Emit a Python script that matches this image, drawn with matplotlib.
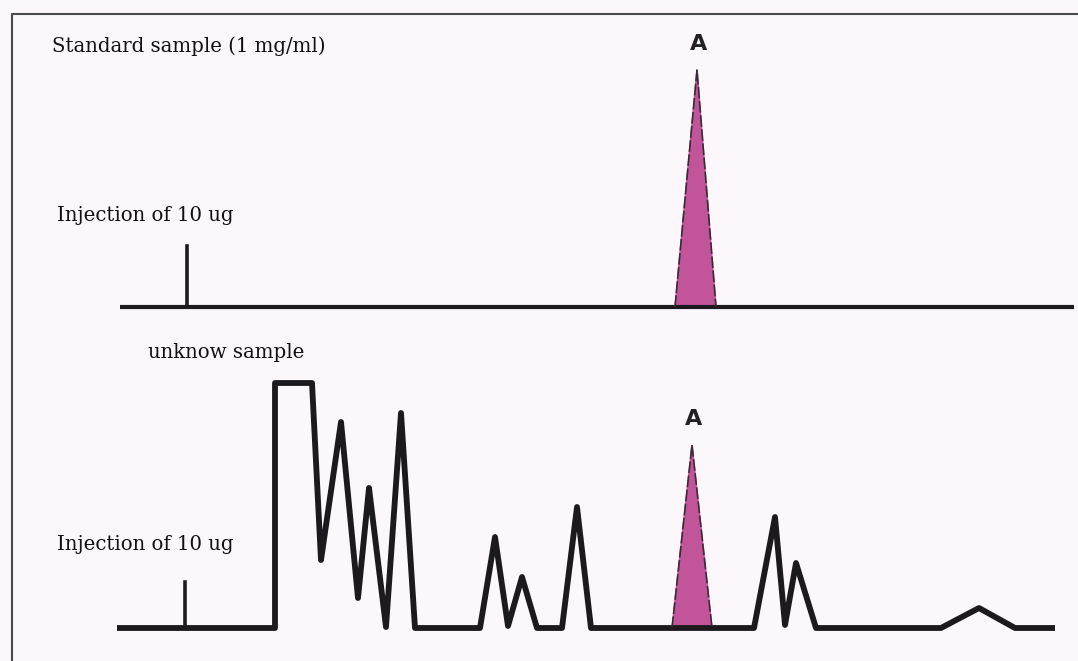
import numpy as np
import matplotlib
matplotlib.use("Agg")
import matplotlib.pyplot as plt
from matplotlib.lines import Line2D

# Standard sample trace: retention position and response above baseline
std_time = [120, 1074]
std_signal = [0, 0]
std_inject_time = 187
std_inject_height = 61
std_peak_time = [675, 697, 716]
std_peak_signal = [0, 237, 0]

# Unknown sample trace
unk_time = [117, 275, 275, 312, 321, 341, 358, 369, 386, 401, 415, 480, 495,
            508, 522, 537, 562, 577, 591, 754, 775, 785, 796, 816, 941, 979,
            1015, 1055]
unk_signal = [0, 0, 245, 245, 68, 206, 30, 140, 1, 215, 0, 0, 91,
              2, 51, 0, 0, 121, 0, 0, 111, 3, 65, 0, 0, 20,
              0, 0]
unk_inject_time = 185
unk_inject_height = 46
unk_peak_time = [672, 692, 712]
unk_peak_signal = [0, 183, 0]

W, H = 1078, 661
BG = "#fbf7fb"
INK = "#1c1a1e"
PEAK_FILL = "#c2559a"
serif = ["DejaVu Serif"]

fig = plt.figure(figsize=(W / 100, H / 100), dpi=100, facecolor=BG)


def trace_axes(baseline_px):
    # axes spanning the whole figure, 1 unit = 1 pixel, baseline at signal 0
    ax = fig.add_axes([0, 0, 1, 1], facecolor="none")
    ax.set_xlim(0, W)
    ax.set_ylim(-(H - baseline_px), baseline_px)
    ax.axis("off")
    return ax


def draw_trace(ax, t, s, inj_t, inj_h, pk_t, pk_s, lw):
    ax.plot(t, s, color=INK, lw=lw, solid_joinstyle="round",
            solid_capstyle="butt", zorder=3)
    ax.plot([inj_t, inj_t], [0, inj_h], color=INK, lw=2.6, zorder=3)
    ax.fill(pk_t, pk_s, color=PEAK_FILL, zorder=2)
    ax.plot(pk_t, pk_s, color="#3a2a36", lw=1.2, ls=(0, (7, 1.5)), zorder=4)
    ax.text(pk_t[1] + 2, pk_s[1] + 16, "A", ha="center", va="bottom",
            fontsize=16, fontweight="bold", family="DejaVu Sans", color="#222")


ax_top = trace_axes(307)
draw_trace(ax_top, std_time, std_signal, std_inject_time, std_inject_height,
           std_peak_time, std_peak_signal, 3.0)

ax_bot = trace_axes(628)
draw_trace(ax_bot, unk_time, unk_signal, unk_inject_time, unk_inject_height,
           unk_peak_time, unk_peak_signal, 4.2)

# labels
for x, y, label in [(52, 46, "Standard sample (1 mg/ml)"),
                    (57, 215, "Injection of 10 ug"),
                    (148, 353, "unknow sample"),
                    (57, 545, "Injection of 10 ug")]:
    fig.text(x / W, 1 - y / H, label, family=serif, fontsize=14.2,
             va="center", color="#111")

# frame on the left and top
fig.add_artist(Line2D([12 / W, 12 / W, 1], [0, 1 - 14 / H, 1 - 14 / H],
                      color="#4a4a4a", lw=1.5, transform=fig.transFigure))

fig.savefig("out.png", dpi=100, facecolor=BG)
